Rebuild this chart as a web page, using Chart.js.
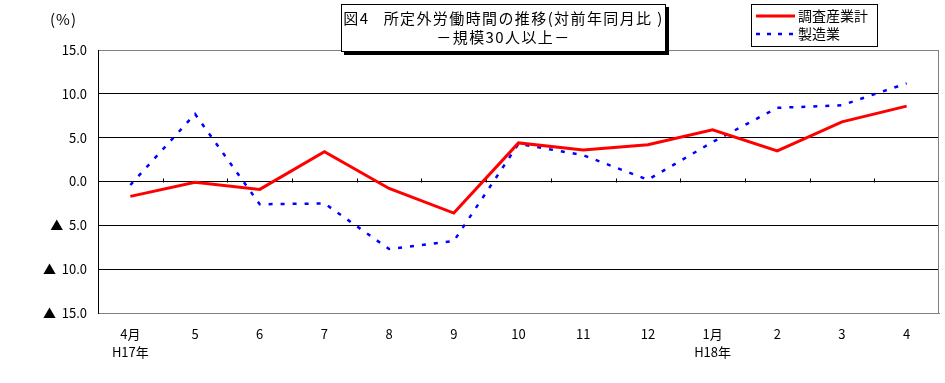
<!DOCTYPE html>
<html>
<head>
<meta charset="utf-8">
<script src="https://cdn.jsdelivr.net/npm/chart.js@4"></script>
<style>
  html, body { margin:0; padding:0; background:#fff; }
  #wrap { position:relative; width:945px; height:383px; overflow:hidden; font-family:"Noto Sans CJK JP", sans-serif; }
  #c { position:absolute; left:0; top:0; }
  .ov { position:absolute; color:#000; white-space:nowrap; }
  #unit { left:50px; top:8px; font-size:15px; letter-spacing:1px; }
  #title { left:341px; top:4px; width:323px; height:43px; border:1px solid #000; background:#fff;
           box-shadow:3px 3px 0 #000; text-align:center; font-size:15px; line-height:19px; padding-top:3px;
           letter-spacing:1.4px; box-sizing:content-box; }
  #legend { left:751px; top:4px; width:125px; height:41px; border:1px solid #000; background:#fff; font-size:14px; }
  .lrow { position:absolute; left:3px; height:18px; }
  .lrow svg { position:absolute; left:0; top:0; }
  .lrow span { position:absolute; left:43px; top:-2px; line-height:20px; }
</style>
</head>
<body>
<div id="wrap">
  <canvas id="c" width="945" height="383"></canvas>
  <div class="ov" id="unit">(%)</div>
  <div class="ov" id="title">図4&nbsp;&nbsp;&nbsp;所定外労働時間の推移(対前年同月比 )<br>－規模30人以上－</div>
  <div class="ov" id="legend">
    <div class="lrow" style="top:2px;"><svg width="42" height="18"><line x1="1" y1="9" x2="40" y2="9" stroke="#ff0000" stroke-width="3"/></svg><span id="lg0"></span></div>
    <div class="lrow" style="top:20px;"><svg width="42" height="18"><line x1="1" y1="9" x2="40" y2="9" stroke="#0000ff" stroke-width="2.5" stroke-dasharray="4 7"/></svg><span id="lg1"></span></div>
  </div>
</div>
<script>
const categories = [['4月','H17年'],'5','6','7','8','9','10','11','12',['1月','H18年'],'2','3','4'];
const seriesNames = ['調査産業計','製造業'];
const totalIndustry = [-1.7, -0.1, -0.9, 3.4, -0.8, -3.6, 4.4, 3.6, 4.2, 5.9, 3.5, 6.8, 8.6];
const manufacturing = [-0.4, 7.7, -2.6, -2.5, -7.7, -6.8, 4.3, 3.0, 0.2, 4.5, 8.4, 8.7, 11.2];
const yTickLabels = ['▲  15.0','▲  10.0','▲  5.0','0.0','5.0','10.0','15.0'];

document.getElementById('lg0').textContent = seriesNames[0];
document.getElementById('lg1').textContent = seriesNames[1];

const extras = {
  id:'extras',
  beforeDatasetsDraw(chart){
    const {ctx, chartArea:a, scales:{x, y}} = chart;
    ctx.save();
    ctx.strokeStyle = '#808080';
    ctx.lineWidth = 1;
    ctx.beginPath();
    ctx.moveTo(a.right - 0.5, a.top);
    ctx.lineTo(a.right - 0.5, a.bottom);
    ctx.stroke();
    const y0 = Math.round(y.getPixelForValue(0)) + 0.5;
    ctx.strokeStyle = '#000';
    ctx.beginPath();
    for (let i = 1; i < categories.length; i++) {
      const xx = Math.round((x.getPixelForValue(i-1) + x.getPixelForValue(i)) / 2) + 0.5;
      ctx.moveTo(xx, y0 - 4);
      ctx.lineTo(xx, y0);
    }
    ctx.stroke();
    ctx.restore();
  }
};

new Chart(document.getElementById('c'), {
  type:'line',
  data:{
    labels: categories,
    datasets:[
      { label:seriesNames[0], data:totalIndustry, borderColor:'#ff0000', borderWidth:3, pointRadius:0, tension:0, fill:false, order:1 },
      { label:seriesNames[1], data:manufacturing, borderColor:'#0000ff', borderWidth:2.5, borderDash:[4,8], pointRadius:0, tension:0, fill:false, order:2 }
    ]
  },
  options:{
    responsive:false,
    animation:false,
    devicePixelRatio:1,
    layout:{ padding:{ top:50, right:6, left:0, bottom:0 } },
    plugins:{ legend:{display:false}, title:{display:false}, tooltip:{enabled:false} },
    scales:{
      x:{
        type:'category',
        offset:true,
        grid:{ display:false, drawTicks:false },
        border:{ display:true, color:'#808080', width:1 },
        ticks:{ color:'#000', maxRotation:0, autoSkip:false, padding:12,
                font:{ family:'"Noto Sans CJK JP", sans-serif', size:13, lineHeight:1.4 } },
        afterFit(s){ s.height = 70; }
      },
      y:{
        min:-15, max:15,
        ticks:{ stepSize:5, color:'#000', padding:11,
                font:{ family:'"Noto Sans CJK JP", sans-serif', size:13 },
                callback:(v,i)=>yTickLabels[i] },
        grid:{ drawTicks:false, lineWidth:1,
               color:(ctx)=> (ctx.tick && Math.abs(ctx.tick.value) === 15) ? '#808080' : '#000' },
        border:{ display:true, color:'#000', width:1 },
        afterFit(s){ s.width = 98; }
      }
    }
  },
  plugins:[extras]
});
</script>
</body>
</html>
